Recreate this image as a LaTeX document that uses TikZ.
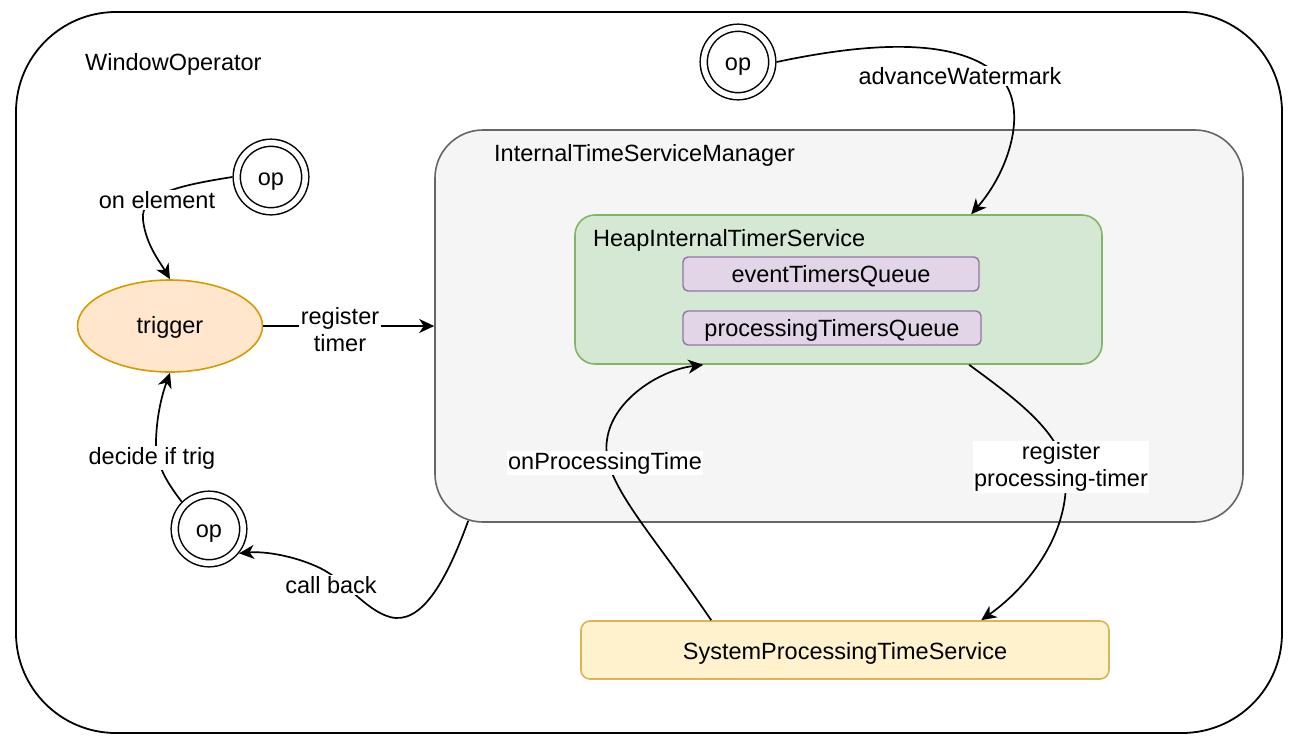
\documentclass[tikz,border=0pt]{standalone}
\usepackage{fontspec}
\setmainfont{Liberation Sans}
\usetikzlibrary{arrows.meta,shapes.geometric,calc}
\definecolor{itsmfill}{HTML}{F5F5F5}
\definecolor{itsmline}{HTML}{666666}
\definecolor{hitsfill}{HTML}{D5E8D4}
\definecolor{hitsline}{HTML}{82B366}
\definecolor{qfill}{HTML}{E1D5E7}
\definecolor{qline}{HTML}{9673A6}
\definecolor{sptsfill}{HTML}{FFF2CC}
\definecolor{sptsline}{HTML}{D6B656}
\definecolor{trigfill}{HTML}{FFE6CC}
\definecolor{trigline}{HTML}{D79B00}
\begin{document}
\begin{tikzpicture}[x=1pt,y=-1pt,
  every node/.style={font=\fontsize{23.5pt}{27pt}\selectfont},
  vc/.style={text height=17.5pt, text depth=0pt},
  box/.style={draw, rectangle, inner sep=0pt, vc},
  arr/.style={-{Stealth[length=15pt,width=14pt,inset=4.5pt]}, line width=1.7pt},
  lbl/.style={fill=white, inner sep=1.5pt, align=center},
  opc/.style={circle, draw, double, double distance=5.6pt, line width=1.5pt,
    minimum size=68.5pt, inner sep=0pt, outer sep=4.4pt, text height=16pt, text depth=0pt},
  titletext/.style={anchor=base west, inner sep=0pt}]
\useasboundingbox (0,0) rectangle (1298,748);

% containers
\node[box, line width=1.8pt, rounded corners=100pt, minimum width=1266pt, minimum height=721pt] (outer) at (649,372.5) {};
\node[titletext] (outerlbl) at (85,70) {WindowOperator};

\node[box, line width=1.6pt, draw=itsmline, fill=itsmfill, rounded corners=48pt, minimum width=808pt, minimum height=392pt] (itsm) at (839,326) {};
\node[titletext] (itsmlbl) at (494,161) {InternalTimeServiceManager};

\node[box, line width=1.6pt, draw=hitsline, fill=hitsfill, rounded corners=20pt, minimum width=527pt, minimum height=149pt] (hits) at (838.5,289.5) {};
\node[titletext] (hitslbl) at (593,246) {HeapInternalTimerService};

\node[box, line width=1.4pt, draw=qline, fill=qfill, rounded corners=5pt, minimum width=296pt, minimum height=34pt] (evq) at (831,274) {eventTimersQueue};
\node[box, line width=1.4pt, draw=qline, fill=qfill, rounded corners=5pt, minimum width=298pt, minimum height=34pt] (prq) at (832,328) {processingTimersQueue};

\node[box, line width=1.6pt, draw=sptsline, fill=sptsfill, rounded corners=9pt, minimum width=528pt, minimum height=58pt, text height=19pt] (spts) at (845,650) {SystemProcessingTimeService};

\node[ellipse, draw=trigline, fill=trigfill, line width=1.6pt, minimum width=185pt, minimum height=92pt, inner sep=0pt, text height=14.5pt, text depth=0pt] (trig) at (170,326) {trigger};

\node[opc] (op1) at (271,177) {op};
\node[opc] (op2) at (738,62) {op};
\node[opc] (op3) at (209,529) {op};

% connectors
\draw[arr] (op1.west) .. controls (175,186) and (140,195) .. (143,220)
  .. controls (146,245) and (160,262) .. (trig.north);
\draw[arr] (trig.east) -- (trig.east -| itsm.west);
\draw[arr] (op3.135) .. controls (165,480) and (155,462) .. (156,440)
  .. controls (157,412) and (163,392) .. (trig.south);
\draw[arr] ($(itsm.south west)+(34,-2)$) .. controls (445,585) and (420,625) .. (390,617)
  .. controls (365,610) and (345,580) .. (320,568)
  .. controls (295,556) and (265,551) .. (op3.-39);
\draw[arr] (op2.east) .. controls (880,40) and (960,40) .. (998,75)
  .. controls (1030,105) and (1010,170) .. ($(hits.north west)+(397,0)$);
\draw[arr] ($(spts.north west)+(131,0)$) .. controls (650,530) and (600,480) .. (607,440)
  .. controls (612,400) and (660,370) .. ($(hits.south west)+(129,0)$);
\draw[arr] ($(hits.south west)+(395,0)$) .. controls (1010,395) and (1060,430) .. (1065,470)
  .. controls (1072,525) and (1035,582) .. ($(spts.north west)+(401,0)$);

% connector labels
\node[lbl] (l1) at (157,200) {on element};
\node[lbl] (l2) at (340,330) {register\\timer};
\node[lbl] (l3) at (152,458) {decide if trig};
\node[lbl] (l4) at (331,585) {call back};
\node[lbl] (l5) at (960,76) {advanceWatermark};
\node[lbl] (l6) at (605,463) {onProcessingTime};
\node[lbl] (l7) at (1061,467) {register\\processing-timer};
\end{tikzpicture}
\end{document}
